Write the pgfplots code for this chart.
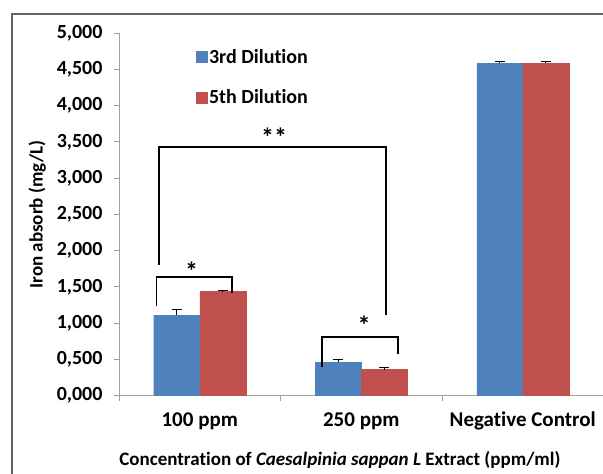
\documentclass[border=0pt]{standalone}
\usepackage{fontspec}
\setmainfont[Ligatures=NoCommon]{Carlito}
\usepackage{pgfplots}
\pgfplotsset{compat=1.18}

\definecolor{barblue}{RGB}{79,129,189}
\definecolor{barred}{RGB}{192,80,77}
\definecolor{axisgray}{RGB}{160,160,160}
\definecolor{framegray}{RGB}{100,100,100}

\newcommand{\tickfont}{\fontsize{20}{24}\selectfont\bfseries}
\newcommand{\catfont}{\fontsize{21}{25}\selectfont\bfseries}
\newcommand{\labfont}{\fontsize{19}{23}\selectfont\bfseries}
\newcommand{\starfont}{\fontsize{26}{30}\selectfont\bfseries}

\begin{document}
\begin{tikzpicture}
\path[use as bounding box] (0pt,0pt) rectangle (603pt,474pt);
% outer frame (only left and top visible)
\draw[framegray, line width=1.6pt] (12pt,-2pt) -- (12pt,460pt) -- (606pt,460pt);

\begin{axis}[
    at={(119pt,78.3pt)}, anchor=south west,
    scale only axis,
    width=484.5pt, height=362.5pt,
    xmin=-0.5, xmax=2.5,
    ymin=0, ymax=5,
    ybar=0pt,
    bar width=46pt,
    axis x line*=bottom,
    axis y line*=left,
    axis line style={axisgray, line width=0.9pt},
    tick align=outside,
    major tick length=5pt,
    ytick={0,0.5,1,1.5,2,2.5,3,3.5,4,4.5,5},
    ytick style={axisgray, line width=0.9pt},
    yticklabel style={font=\tickfont, xshift=-8pt,
        /pgf/number format/.cd, fixed, fixed zerofill, precision=3, use comma,
        assume math mode=true},
    xtick={0,1,2},
    xticklabels={100 ppm,250 ppm,Negative Control},
    xtick style={draw=none},
    xticklabel style={font=\catfont, yshift=-8pt},
    extra x ticks={-0.5,0.5,1.5},
    extra x tick labels={},
    extra x tick style={xtick style={draw=axisgray, line width=0.9pt}},
    xlabel={Concentration of \textit{Caesalpinia sappan L} Extract (ppm/ml)},
    xlabel style={font=\labfont, at={(rel axis cs:0.456,0)}, anchor=center, yshift=-64pt},
    ylabel={Iron absorb (mg/L)},
    ylabel style={font=\labfont, at={(rel axis cs:-0.169,0.5)}, anchor=center},
    legend style={at={(axis cs:-0.045,4.84)}, anchor=north west, draw=none, fill=none,
        font=\tickfont, row sep=21pt, cells={anchor=west}},
    legend image code/.code={\fill[#1] (0pt,-5.5pt) rectangle (11pt,5.5pt);},
    error bars/error bar style={black, line width=0.9pt},
    error bars/error mark options={rotate=90, mark size=5pt, black, line width=0.9pt},
    clip=false,
]
\addplot[fill=barblue, draw=barblue,
    error bars/.cd, y dir=plus, y explicit]
    coordinates {(0,1.11) +- (0,0.08) (1,0.46) +- (0,0.035) (2,4.585) +- (0,0.03)};
\addlegendentry{3rd Dilution}
\addplot[fill=barred, draw=barred,
    error bars/.cd, y dir=plus, y explicit]
    coordinates {(0,1.435) +- (0,0.01) (1,0.36) +- (0,0.025) (2,4.585) +- (0,0.03)};
\addlegendentry{5th Dilution}

% significance brackets
\draw[black, line width=1.6pt] (axis cs:-0.252,1.80) -- (axis cs:-0.252,3.43) -- (axis cs:1.155,3.43) -- (axis cs:1.155,1.11);
\node[font=\starfont, anchor=base, inner sep=0pt] at (axis cs:0.46,3.44) {**};
\draw[black, line width=1.6pt] (axis cs:-0.269,1.24) -- (axis cs:-0.269,1.64) -- (axis cs:0.20,1.64) -- (axis cs:0.20,1.42);
\node[font=\starfont, anchor=base, inner sep=0pt] at (axis cs:-0.05,1.59) {*};
\draw[black, line width=1.6pt] (axis cs:0.757,0.40) -- (axis cs:0.757,0.81) -- (axis cs:1.228,0.81) -- (axis cs:1.228,0.575);
\node[font=\starfont, anchor=base, inner sep=0pt] at (axis cs:1.017,0.84) {*};
\end{axis}
\end{tikzpicture}
\end{document}
